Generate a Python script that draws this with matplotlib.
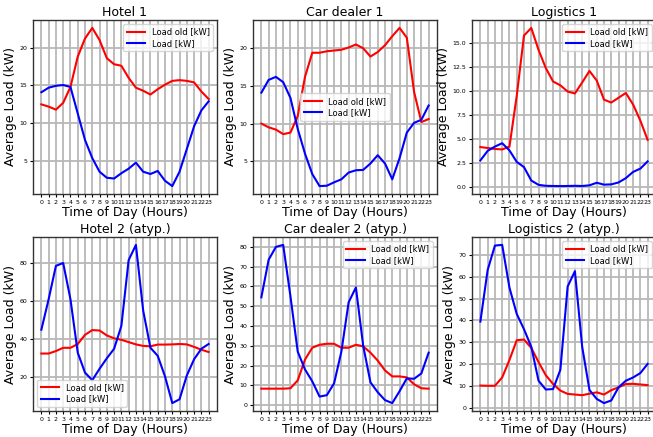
import matplotlib.pyplot as plt

hours = list(range(24))

titles = ["Hotel 1", "Car dealer 1", "Logistics 1",
          "Hotel 2 (atyp.)", "Car dealer 2 (atyp.)", "Logistics 2 (atyp.)"]

hotel1_old = [12.5, 12.2, 11.8, 12.7, 14.8, 18.8, 21.2, 22.6, 21.0, 18.6, 17.8, 17.6,
              16.0, 14.7, 14.3, 13.8, 14.5, 15.1, 15.6, 15.7, 15.6, 15.4, 14.2, 13.2]
hotel1_new = [14.1, 14.7, 14.95, 15.05, 14.8, 11.3, 7.8, 5.4, 3.6, 2.8, 2.7, 3.4,
              4.0, 4.8, 3.6, 3.3, 3.7, 2.4, 1.7, 3.6, 6.6, 9.6, 11.7, 12.9]

car1_old = [10.0, 9.5, 9.2, 8.6, 8.8, 11.0, 16.2, 19.4, 19.4, 19.6, 19.7, 19.8,
            20.1, 20.5, 20.0, 18.9, 19.5, 20.4, 21.6, 22.7, 21.4, 14.2, 10.2, 10.6]
car1_new = [14.1, 15.8, 16.2, 15.5, 13.4, 9.3, 6.0, 3.3, 1.7, 1.75, 2.2, 2.6,
            3.5, 3.8, 3.85, 4.7, 5.8, 4.7, 2.6, 5.4, 8.8, 10.1, 10.5, 12.4]

log1_old = [4.15, 4.05, 3.95, 3.9, 4.2, 9.5, 15.8, 16.6, 14.3, 12.4, 11.0, 10.6,
            9.95, 9.75, 10.9, 12.1, 11.1, 9.1, 8.8, 9.3, 9.8, 8.6, 6.9, 4.9]
log1_new = [2.75, 3.75, 4.2, 4.55, 3.8, 2.6, 2.05, 0.65, 0.2, 0.1, 0.08, 0.07,
            0.08, 0.1, 0.08, 0.15, 0.42, 0.22, 0.25, 0.45, 0.9, 1.55, 1.9, 2.65]

hotel2_old = [32.5, 32.5, 33.8, 35.5, 35.5, 37.5, 42.3, 44.8, 44.6, 42.0, 40.5, 39.7,
              38.5, 37.3, 36.5, 36.3, 37.2, 37.2, 37.3, 37.5, 37.3, 36.0, 34.5, 33.3]
hotel2_new = [45, 61, 78.5, 80, 61, 33, 22.5, 18.5, 24.5, 30, 35, 47,
              81.5, 89.5, 55, 35.5, 31.3, 20.5, 6.5, 8.5, 21, 29.5, 35, 37.5]

car2_old = [8.3, 8.3, 8.3, 8.3, 8.5, 12.5, 23, 29, 30.5, 31, 31, 29,
            29, 30.5, 29.7, 26.5, 22.5, 17.5, 14.5, 14.5, 14, 10.5, 8.5, 8.3]
car2_new = [54.5, 73.5, 80, 81, 55, 27, 18, 12, 4.3, 5, 11, 27,
            52, 59.5, 30, 11.5, 6.5, 2.5, 1, 7, 13.5, 13.3, 16, 26.5]

log2_old = [10.3, 10.2, 10.2, 14, 22, 31, 31.3, 27.5, 21, 15, 11, 8,
            6.5, 6.2, 5.9, 6.6, 7.2, 6.2, 8.2, 9.5, 11, 11.1, 10.8, 10.5]
log2_new = [39.5, 63, 74.2, 74.5, 55, 43, 36, 28, 12.5, 8.5, 8.7, 17.5,
            55.5, 62.5, 28, 8.3, 4.2, 2.3, 3.5, 9.5, 12.5, 14, 16, 20.2]

old_series = [hotel1_old, car1_old, log1_old, hotel2_old, car2_old, log2_old]
new_series = [hotel1_new, car1_new, log1_new, hotel2_new, car2_new, log2_new]
legend_locs = ["upper right", "center", "upper right", "lower left", "upper right", "upper right"]

W, H = 653, 437
fig, axes = plt.subplots(2, 3, figsize=(W / 100, H / 100), dpi=100)

col_left = [33, 253, 472]
row_top = [20, 237]
box_w, box_h = 184, 174

for i, ax in enumerate(axes.flat):
    r, c = divmod(i, 3)
    ax.set_position([col_left[c] / W, 1 - (row_top[r] + box_h) / H, box_w / W, box_h / H])

for ax, title, old, new, loc in zip(axes.flat, titles, old_series, new_series, legend_locs):
    ax.plot(hours, old, color='red', lw=1.5, label='Load old [kW]')
    ax.plot(hours, new, color='blue', lw=1.5, label='Load [kW]')
    ax.set_title(title, fontsize=9, pad=3)
    ax.set_xlabel('Time of Day (Hours)', fontsize=9, labelpad=1)
    ax.set_ylabel('Average Load (kW)', fontsize=9, labelpad=2)
    ax.set_xticks(hours)
    ax.tick_params(axis='both', labelsize=4.5, length=2.5, pad=1.5)
    ax.grid(True, color='#b8b8b8', lw=1.3)
    ax.set_axisbelow(True)
    for s in ax.spines.values():
        s.set_color('#333333')
        s.set_linewidth(1.0)
    ax.legend(loc=loc, fontsize=6, handlelength=2.2, borderpad=0.4, labelspacing=0.3)

fig.savefig('out.png', dpi=100)
